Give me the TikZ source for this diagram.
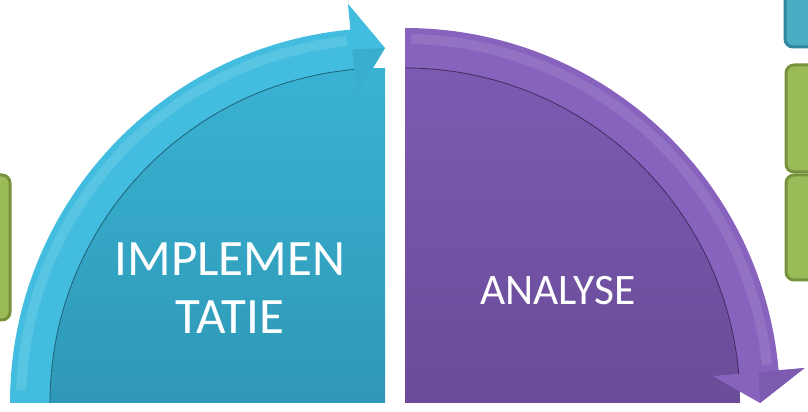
\documentclass[tikz,border=0pt]{standalone}
\usepackage{fontspec}
\setmainfont{Carlito}
\definecolor{cyanband}{HTML}{42BDE0}
\definecolor{cyantop}{HTML}{3AB2D3}
\definecolor{cyanbot}{HTML}{2F98B6}
\definecolor{cyanline}{HTML}{1C5F73}
\definecolor{purpband}{HTML}{8763BE}
\definecolor{purptop}{HTML}{7C5AB2}
\definecolor{purpbot}{HTML}{6A4C98}
\definecolor{purpline}{HTML}{3E2A5E}
\definecolor{boxgreen}{HTML}{9BBB59}
\definecolor{boxgreendark}{HTML}{76923C}
\definecolor{boxcyan}{HTML}{4BACC6}
\definecolor{boxcyandark}{HTML}{31859C}
\tikzset{
  greenbox/.style={fill=boxgreen, draw=boxgreendark, line width=3pt, rounded corners=8pt},
  cyanbox/.style={fill=boxcyan, draw=boxcyandark, line width=3pt, rounded corners=8pt},
  phase/.style={text=white, align=center, inner sep=0pt}
}
\begin{document}
\begin{tikzpicture}[x=1pt,y=1pt]
\def\ro{375}
\def\ri{335}
\def\rm{355}
\def\wo{401}
\def\wi{309}
\useasboundingbox (0,0) rectangle (808,412);
\clip (0,0) rectangle (808,412);
% side boxes
\draw[greenbox] (-20,92) rectangle (10,237);
\draw[cyanbox] (785,365) rectangle (830,432);
\draw[greenbox] (786,240) rectangle (830,347);
\draw[greenbox] (786,132) rectangle (830,237);
% left quarter
\begin{scope}[shift={(385,9)}]
\shade[top color=cyantop, bottom color=cyanbot] (0,0) -- (180:\ri) arc (180:90:\ri) -- cycle;
\fill[cyanband] (180:\ro) arc (180:95.3:\ro) -- (95.3:\wo) -- (90:\rm) -- (95.3:\wi)
  -- (95.3:\ri) arc (95.3:180:\ri) -- cycle;
\draw[white, opacity=0.12, line width=10pt] (178:364) arc (178:96:364);
\fill[cyanbot!40!cyanband] (95.3:\rm) -- (90:\rm) -- (95.3:\wi) -- cycle;
\draw[cyanline, line width=0.8pt] (180:\ri) arc (180:95.3:\ri);
\end{scope}
% right quarter
\begin{scope}[shift={(405,9)}]
\shade[top color=purptop, bottom color=purpbot] (0,0) -- (90:\ri) arc (90:0:\ri) -- cycle;
\fill[purpband] (90:\ro) arc (90:5:\ro) -- (5:\wo) -- (0:\rm) -- (5:\wi)
  -- (5:\ri) arc (5:90:\ri) -- cycle;
\draw[white, opacity=0.1, line width=10pt] (89:364) arc (89:6:364);
\fill[purpbot!40!purpband] (5:\rm) -- (0:\rm) -- (5:\wo) -- cycle;
\draw[purpline, line width=0.8pt] (90:\ri) arc (90:5:\ri);
\end{scope}
% labels
\node[phase, font=\fontsize{51}{58}\selectfont] (impl) at (230,124) {IMPLEMEN\\TATIE};
\node[phase, font=\fontsize{43.5}{50}\selectfont] (anal) at (558,121) {ANALYSE};
\end{tikzpicture}
\end{document}
